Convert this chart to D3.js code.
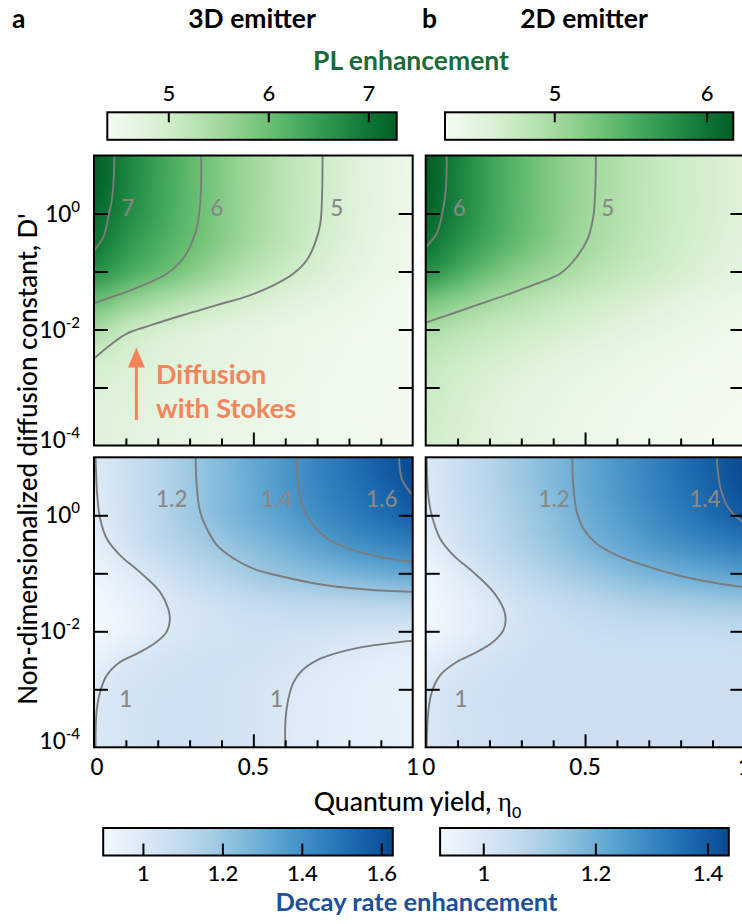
<!DOCTYPE html>
<html>
<head>
<meta charset="utf-8">
<script src="https://cdn.jsdelivr.net/npm/d3@7"></script>
<style>
html, body { margin: 0; padding: 0; background: #fff; overflow: hidden; }
svg { display: block; font-family: Lato, "Open Sans", sans-serif; font-weight: 500; }
</style>
</head>
<body>
<svg id="fig" width="742" height="924"></svg>
<script>
// grid the maps are sampled on: quantum yield (columns) and log10 D' (rows, top to bottom)
const etaGrid = [0, 0.1, 0.2, 0.3, 0.4, 0.5, 0.6, 0.7, 0.8, 0.9, 1]
const logDGrid = [1, 0.5, 0, -0.5, -1, -1.5, -2, -2.5, -3, -3.5, -4]

// PL enhancement, 3D emitter
const pl3D = [
  [7.28, 6.85, 6.45, 6.11, 5.80, 5.51, 5.26, 5.05, 4.85, 4.68, 4.55],
  [7.26, 6.84, 6.44, 6.11, 5.80, 5.51, 5.26, 5.05, 4.85, 4.68, 4.55],
  [7.15, 6.78, 6.42, 6.09, 5.78, 5.50, 5.25, 5.04, 4.84, 4.67, 4.54],
  [7.03, 6.60, 6.30, 6.03, 5.75, 5.47, 5.22, 5.00, 4.80, 4.64, 4.52],
  [6.70, 6.35, 6.08, 5.80, 5.50, 5.25, 5.05, 4.88, 4.73, 4.60, 4.50],
  [6.05, 5.72, 5.45, 5.25, 5.06, 4.92, 4.80, 4.70, 4.60, 4.52, 4.46],
  [5.45, 5.12, 4.93, 4.82, 4.74, 4.67, 4.61, 4.56, 4.51, 4.47, 4.43],
  [5.00, 4.88, 4.80, 4.74, 4.68, 4.63, 4.58, 4.54, 4.50, 4.46, 4.43],
  [4.88, 4.80, 4.74, 4.69, 4.64, 4.60, 4.56, 4.52, 4.48, 4.45, 4.42],
  [4.82, 4.76, 4.71, 4.66, 4.62, 4.58, 4.54, 4.51, 4.47, 4.44, 4.41],
  [4.80, 4.74, 4.69, 4.65, 4.61, 4.57, 4.53, 4.50, 4.46, 4.43, 4.40]
]
// PL enhancement, 2D emitter
const pl2D = [
  [6.20, 5.90, 5.62, 5.40, 5.20, 5.04, 4.92, 4.80, 4.70, 4.62, 4.55],
  [6.18, 5.89, 5.62, 5.40, 5.20, 5.04, 4.92, 4.80, 4.70, 4.62, 4.55],
  [6.13, 5.88, 5.61, 5.39, 5.20, 5.03, 4.91, 4.80, 4.70, 4.62, 4.55],
  [6.02, 5.78, 5.55, 5.35, 5.16, 5.01, 4.88, 4.77, 4.68, 4.60, 4.53],
  [5.80, 5.55, 5.32, 5.14, 5.02, 4.90, 4.80, 4.71, 4.63, 4.56, 4.50],
  [5.30, 5.15, 5.00, 4.90, 4.80, 4.72, 4.65, 4.58, 4.52, 4.46, 4.42],
  [4.95, 4.86, 4.78, 4.71, 4.65, 4.59, 4.53, 4.48, 4.43, 4.39, 4.36],
  [4.80, 4.72, 4.65, 4.59, 4.53, 4.48, 4.44, 4.40, 4.37, 4.34, 4.32],
  [4.73, 4.65, 4.58, 4.52, 4.47, 4.43, 4.39, 4.36, 4.33, 4.31, 4.30],
  [4.70, 4.62, 4.55, 4.49, 4.44, 4.40, 4.37, 4.34, 4.32, 4.30, 4.29],
  [4.68, 4.60, 4.53, 4.47, 4.43, 4.39, 4.36, 4.33, 4.31, 4.29, 4.29]
]
// decay rate enhancement, 3D emitter
const decay3D = [
  [0.995, 1.060, 1.125, 1.190, 1.252, 1.315, 1.378, 1.440, 1.502, 1.565, 1.629],
  [0.990, 1.055, 1.120, 1.188, 1.250, 1.313, 1.376, 1.435, 1.490, 1.545, 1.605],
  [0.985, 1.050, 1.120, 1.185, 1.245, 1.300, 1.355, 1.410, 1.460, 1.510, 1.555],
  [0.960, 1.030, 1.100, 1.155, 1.200, 1.245, 1.290, 1.340, 1.395, 1.430, 1.460],
  [0.930, 0.975, 1.030, 1.090, 1.135, 1.180, 1.215, 1.245, 1.275, 1.300, 1.330],
  [0.905, 0.940, 0.985, 1.030, 1.060, 1.085, 1.100, 1.110, 1.120, 1.130, 1.140],
  [0.900, 0.935, 0.980, 1.020, 1.040, 1.050, 1.050, 1.045, 1.035, 1.020, 1.010],
  [0.950, 1.002, 1.030, 1.045, 1.050, 1.045, 1.030, 1.005, 0.985, 0.970, 0.960],
  [0.995, 1.030, 1.045, 1.050, 1.045, 1.030, 1.005, 0.980, 0.965, 0.955, 0.950],
  [0.998, 1.035, 1.050, 1.052, 1.045, 1.030, 1.001, 0.980, 0.965, 0.955, 0.948],
  [0.999, 1.035, 1.050, 1.052, 1.045, 1.030, 1.000, 0.980, 0.965, 0.955, 0.948]
]
// decay rate enhancement, 2D emitter
const decay2D = [
  [0.998, 1.040, 1.085, 1.130, 1.175, 1.218, 1.262, 1.305, 1.350, 1.394, 1.438],
  [0.995, 1.038, 1.083, 1.128, 1.172, 1.215, 1.258, 1.300, 1.343, 1.385, 1.428],
  [0.985, 1.030, 1.072, 1.115, 1.158, 1.200, 1.242, 1.284, 1.324, 1.362, 1.398],
  [0.965, 1.015, 1.060, 1.100, 1.140, 1.180, 1.215, 1.250, 1.280, 1.305, 1.330],
  [0.935, 0.980, 1.025, 1.065, 1.100, 1.130, 1.160, 1.185, 1.205, 1.225, 1.240],
  [0.925, 0.955, 0.990, 1.025, 1.050, 1.070, 1.090, 1.105, 1.115, 1.125, 1.135],
  [0.925, 0.955, 0.990, 1.020, 1.035, 1.045, 1.050, 1.052, 1.053, 1.054, 1.055],
  [0.960, 0.996, 1.020, 1.032, 1.038, 1.040, 1.040, 1.040, 1.040, 1.040, 1.040],
  [0.997, 1.020, 1.030, 1.035, 1.037, 1.038, 1.038, 1.038, 1.038, 1.038, 1.038],
  [0.999, 1.022, 1.032, 1.036, 1.038, 1.038, 1.038, 1.038, 1.038, 1.038, 1.038],
  [0.999, 1.022, 1.032, 1.036, 1.038, 1.038, 1.038, 1.038, 1.038, 1.038, 1.038]
]

// contour lines, points are [eta, log10 D']
const pl3DLines = [
  {level: '7', at: [0.107, 0.11], pts: [[0.064, 1], [0.062, 0.6], [0.055, 0.2], [0.047, 0], [0.03, -0.4], [0, -0.64]]},
  {level: '6', at: [0.385, 0.11], pts: [[0.336, 1], [0.336, 0.51], [0.332, 0.11], [0.325, -0.18], [0.31, -0.46], [0.283, -0.75], [0.228, -1.04], [0.165, -1.21], [0.103, -1.35], [0.04, -1.47], [0, -1.55]]},
  {level: '5', at: [0.762, 0.11], pts: [[0.717, 1], [0.716, 0.4], [0.71, -0.18], [0.693, -0.52], [0.667, -0.81], [0.625, -1.04], [0.563, -1.24], [0.489, -1.41], [0.385, -1.58], [0.28, -1.75], [0.176, -1.93], [0.103, -2.07], [0.05, -2.27], [0, -2.5]]}
]
const pl2DLines = [
  {level: '6', at: [0.105, 0.11], pts: [[0.066, 1], [0.063, 0.4], [0.052, 0], [0.034, -0.35], [0, -0.58]]},
  {level: '5', at: [0.571, 0.11], pts: [[0.534, 1], [0.532, 0.4], [0.526, -0.05], [0.51, -0.41], [0.474, -0.75], [0.421, -1.04], [0.348, -1.21], [0.265, -1.38], [0.16, -1.58], [0.076, -1.74], [0, -1.88]]}
]
const decay3DLines = [
  {level: '1.2', at: [0.244, 0.29], pts: [[0.319, 1], [0.322, 0.52], [0.333, 0.06], [0.354, -0.23], [0.385, -0.51], [0.437, -0.74], [0.5, -0.92], [0.594, -1.06], [0.699, -1.18], [0.855, -1.28], [1, -1.32]]},
  {level: '1.4', at: [0.573, 0.29], pts: [[0.636, 1], [0.641, 0.52], [0.657, 0.12], [0.688, -0.17], [0.74, -0.43], [0.814, -0.6], [0.908, -0.73], [1, -0.8]]},
  {level: '1.6', at: [0.903, 0.29], pts: [[0.957, 1], [0.965, 0.64], [0.983, 0.46], [1, 0.35]]},
  {level: '1', at: [0.1, -3.16], pts: [[0.005, 1], [0.01, 0.35], [0.019, -0.05], [0.04, -0.4], [0.082, -0.69], [0.144, -0.98], [0.207, -1.32], [0.233, -1.61], [0.238, -1.81], [0.228, -2.01], [0.197, -2.18], [0.144, -2.36], [0.082, -2.53], [0.04, -2.76], [0.019, -3.05], [0.008, -3.39], [0.005, -4]]},
  {level: '1', at: [0.573, -3.16], pts: [[0.6, -4], [0.601, -3.51], [0.61, -3.16], [0.626, -2.88], [0.652, -2.68], [0.699, -2.5], [0.772, -2.36], [0.855, -2.26], [1, -2.16]]}
]
const decay2DLines = [
  {level: '1.2', at: [0.403, 0.29], pts: [[0.46, 1], [0.463, 0.52], [0.474, 0.06], [0.495, -0.23], [0.537, -0.49], [0.6, -0.69], [0.683, -0.86], [0.788, -1.03], [0.892, -1.15], [1, -1.24]]},
  {level: '1.4', at: [0.876, 0.29], pts: [[0.913, 1], [0.923, 0.52], [0.944, 0.18], [0.97, 0], [1, -0.14]]},
  {level: '1', at: [0.111, -3.16], pts: [[0.003, 1], [0.008, 0.35], [0.019, 0], [0.045, -0.4], [0.087, -0.69], [0.149, -0.98], [0.212, -1.32], [0.244, -1.61], [0.251, -1.79], [0.244, -1.98], [0.212, -2.18], [0.16, -2.36], [0.097, -2.53], [0.045, -2.76], [0.019, -3.05], [0.008, -3.39], [0.003, -4]]}
]

// colour bar ranges and ticks
const plRange3D = [4.39, 7.284], plTicks3D = [5, 6, 7]
const plRange2D = [4.283, 6.175], plTicks2D = [5, 6]
const decayRange3D = [0.9, 1.629], decayTicks3D = [1, 1.2, 1.4, 1.6]
const decayRange2D = [0.923, 1.438], decayTicks2D = [1, 1.2, 1.4]

const yLabelTicks = [0, -2, -4]
const xLabelTicks = [0, 0.5, 1]

const svg = d3.select('#fig')
const defs = svg.append('defs')
const W = 318.7, H = 290
const greens = d => d3.scaleSequential(t => d3.interpolateGreens(0.02 + 0.9 * t)).domain(d)
const blues = d => d3.scaleSequential(t => d3.interpolateBlues(0.02 + 0.88 * t)).domain(d)

const panels = [
  {id: 'a1', x0: 94, y0: 155.5, grid: pl3D, lines: pl3DLines, color: greens(plRange3D), left: true, bottom: false},
  {id: 'b1', x0: 425.7, y0: 155.5, grid: pl2D, lines: pl2DLines, color: greens(plRange2D), left: false, bottom: false},
  {id: 'a2', x0: 94, y0: 457.3, grid: decay3D, lines: decay3DLines, color: blues(decayRange3D), left: true, bottom: true},
  {id: 'b2', x0: 425.7, y0: 457.3, grid: decay2D, lines: decay2DLines, color: blues(decayRange2D), left: false, bottom: true}
]

function heatImage(grid, color, x, y) {
  const nx = etaGrid.length, ny = logDGrid.length
  const small = document.createElement('canvas')
  small.width = nx; small.height = ny
  const sctx = small.getContext('2d')
  const img = sctx.createImageData(nx, ny)
  grid.forEach((row, j) => row.forEach((v, i) => {
    const c = d3.rgb(color(v)), k = 4 * (j * nx + i)
    img.data[k] = c.r; img.data[k + 1] = c.g; img.data[k + 2] = c.b; img.data[k + 3] = 255
  }))
  sctx.putImageData(img, 0, 0)
  const big = document.createElement('canvas')
  big.width = Math.round(W); big.height = Math.round(H)
  const bctx = big.getContext('2d')
  bctx.imageSmoothingEnabled = true
  bctx.imageSmoothingQuality = 'high'
  // cell size so that pixel centres land on the grid nodes
  const cw = (x(etaGrid[1]) - x(etaGrid[0])) * big.width / W
  const ch = (y(logDGrid[1]) - y(logDGrid[0])) * big.height / H
  bctx.drawImage(small, -cw / 2, -ch / 2, cw * nx, ch * ny)
  return big.toDataURL()
}

function drawPanel(p) {
  const x = d3.scaleLinear().domain([0, 1]).range([p.x0, p.x0 + W])
  const y = d3.scaleLinear().domain([-4, 1]).range([p.y0 + H, p.y0])
  const clipId = 'clip-' + p.id
  defs.append('clipPath').attr('id', clipId)
    .append('rect').attr('x', p.x0).attr('y', p.y0).attr('width', W).attr('height', H)

  const g = svg.append('g')
  g.append('image')
    .attr('href', heatImage(p.grid, p.color, x, y))
    .attr('x', p.x0).attr('y', p.y0).attr('width', W).attr('height', H)
    .attr('preserveAspectRatio', 'none')

  const line = d3.line().x(d => x(d[0])).y(d => y(d[1])).curve(d3.curveCatmullRom.alpha(0.5))
  g.append('g').attr('clip-path', `url(#${clipId})`)
    .selectAll('path').data(p.lines).join('path')
    .attr('d', d => line(d.pts))
    .attr('fill', 'none').attr('stroke', '#7c7c7c').attr('stroke-width', 1.9)

  g.append('g').selectAll('text').data(p.lines).join('text')
    .attr('x', d => x(d.at[0])).attr('y', d => y(d.at[1]))
    .attr('text-anchor', 'middle').attr('dominant-baseline', 'central')
    .attr('font-size', 22.5).attr('fill', '#888')
    .text(d => d.level)

  // inward ticks
  const axes = [
    [d3.axisLeft(y).tickValues([-3, -2, -1, 0]).tickSize(-14), `translate(${p.x0},0)`],
    [d3.axisRight(y).tickValues([-3, -2, -1, 0]).tickSize(-14), `translate(${p.x0 + W},0)`],
    [d3.axisBottom(x).tickValues([0.1, 0.2, 0.3, 0.4, 0.6, 0.7, 0.8, 0.9]).tickSize(-7), `translate(0,${p.y0 + H})`],
    [d3.axisBottom(x).tickValues([0.5]).tickSize(-13), `translate(0,${p.y0 + H})`]
  ]
  axes.forEach(([ax, tr]) => {
    const a = g.append('g').attr('transform', tr).call(ax.tickFormat(''))
    a.select('.domain').remove()
    a.selectAll('line').attr('stroke', '#000').attr('stroke-width', 2)
  })

  g.append('rect').attr('x', p.x0).attr('y', p.y0).attr('width', W).attr('height', H)
    .attr('fill', 'none').attr('stroke', '#000').attr('stroke-width', 2)

  if (p.left) {
    yLabelTicks.forEach(v => {
      const ty = v === -4 ? y(v) - 6 : y(v)
      const t = g.append('text').attr('x', p.x0 - 14).attr('y', ty + 8)
        .attr('text-anchor', 'end').attr('font-size', 22.5)
      t.append('tspan').text('10')
      t.append('tspan').attr('dy', -10).attr('font-size', 15).text(String(v))
    })
  }
  if (p.bottom) {
    g.append('g').selectAll('text').data(xLabelTicks).join('text')
      .attr('x', d => x(d) + (d === 0 ? 3 : 0)).attr('y', p.y0 + H + 28)
      .attr('text-anchor', 'middle').attr('font-size', 22.5)
      .text(d => d)
  }
  return {x, y}
}

const scalesA = drawPanel(panels[0])
panels.slice(1).forEach(drawPanel)

// arrow and note in the top-left panel
const ax = scalesA.x, ay = scalesA.y
const orange = '#f4845c'
svg.append('line')
  .attr('x1', ax(0.133)).attr('x2', ax(0.133))
  .attr('y1', ay(-3.56)).attr('y2', ay(-2.31) + 16)
  .attr('stroke', orange).attr('stroke-width', 3)
svg.append('path')
  .attr('d', `M${ax(0.133)},${ay(-2.31)} l-8.5,20 l17,0 z`)
  .attr('fill', orange)
svg.append('text').attr('x', 156).attr('y', 384)
  .attr('font-size', 27).attr('font-weight', 700).attr('fill', orange).text('Diffusion')
svg.append('text').attr('x', 156).attr('y', 418)
  .attr('font-size', 27).attr('font-weight', 700).attr('fill', orange).text('with Stokes')

// colour bars
function colorbar(id, x0, x1, yTop, color, ticks, below) {
  const h = 27.5
  const s = d3.scaleLinear().domain(color.domain()).range([x0, x1])
  const grad = defs.append('linearGradient').attr('id', id)
  d3.range(0, 1.0001, 0.05).forEach(t => {
    const d = color.domain()
    grad.append('stop').attr('offset', t).attr('stop-color', color(d[0] + t * (d[1] - d[0])))
  })
  svg.append('rect').attr('x', x0).attr('y', yTop).attr('width', x1 - x0).attr('height', h)
    .attr('fill', `url(#${id})`).attr('stroke', '#000').attr('stroke-width', 2)
  const axis = below
    ? d3.axisBottom(s).tickValues(ticks).tickSize(-12).tickPadding(10)
    : d3.axisTop(s).tickValues(ticks).tickSize(-10).tickPadding(11)
  const a = svg.append('g').attr('transform', `translate(0,${below ? yTop + h : yTop})`)
    .call(axis.tickFormat(d3.format('')))
  a.select('.domain').remove()
  a.selectAll('line').attr('stroke', '#000').attr('stroke-width', 2)
  a.attr('font-family', null).attr('font-size', 22)
  a.selectAll('text').attr('fill', '#000')
}
colorbar('gPL3', 107.3, 396.7, 112.3, panels[0].color, plTicks3D, false)
colorbar('gPL2', 445, 733.3, 112.3, panels[1].color, plTicks2D, false)
colorbar('gD3', 103.2, 392.8, 828, panels[2].color, decayTicks3D, true)
colorbar('gD2', 440.1, 728.8, 828, panels[3].color, decayTicks2D, true)

// titles and axis names
const text = (x, y, s, opts = {}) => svg.append('text').attr('x', x).attr('y', y)
  .attr('font-size', opts.size || 26).attr('font-weight', opts.bold ? 700 : 500)
  .attr('fill', opts.fill || '#000').attr('text-anchor', opts.anchor || 'start').text(s)
text(12, 28, 'a', {bold: true, size: 26.5})
text(252, 28, '3D emitter', {bold: true, anchor: 'middle', size: 26.5})
text(422, 28, 'b', {bold: true, size: 26.5})
text(584, 28, '2D emitter', {bold: true, anchor: 'middle', size: 26.5})
text(411, 70, 'PL enhancement', {bold: true, anchor: 'middle', fill: '#1b6b3a', size: 26.5})
text(416.5, 911, 'Decay rate enhancement', {bold: true, anchor: 'middle', fill: '#1d4f9a', size: 25.5})

const xl = svg.append('text').attr('x', 417.5).attr('y', 811)
  .attr('text-anchor', 'middle').attr('font-size', 26.5)
xl.append('tspan').text('Quantum yield, ')
xl.append('tspan').attr('font-family', '"Liberation Serif", serif').text('η')
xl.append('tspan').attr('font-size', 16).attr('dy', 7).text('0')

svg.append('text')
  .attr('transform', 'translate(37,459) rotate(-90)')
  .attr('text-anchor', 'middle').attr('font-size', 26)
  .text("Non-dimensionalized diffusion constant, D'")
</script>
</body>
</html>
